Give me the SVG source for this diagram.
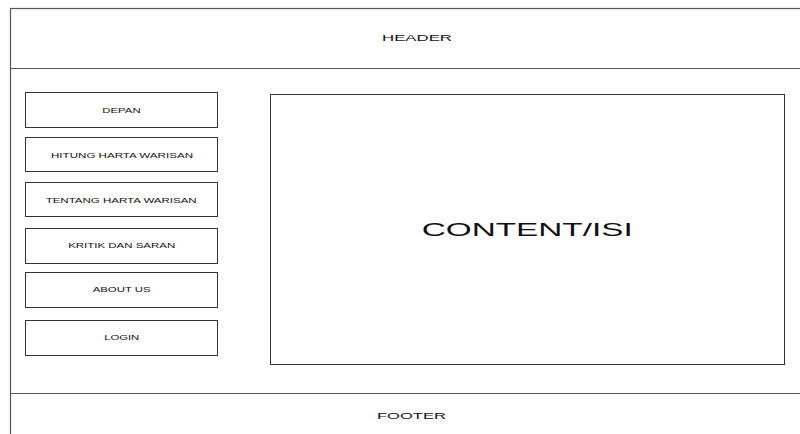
<svg xmlns="http://www.w3.org/2000/svg" width="800" height="434" viewBox="0 0 800 434">
<style>
.box{fill:#fff;stroke:#333;stroke-width:1}
.ln{stroke:#555;stroke-width:1.2;fill:none}
.t{font-family:"Liberation Sans",Arial,sans-serif;fill:#111;text-anchor:middle;dominant-baseline:central}
.m{font-size:7px}
.h{font-size:9.5px}
</style>
<rect width="800" height="434" fill="#fff"/>
<g id="frame">
<rect x="10.5" y="8.5" width="800" height="440" class="ln"/>
</g>
<g id="header">
<line x1="10.5" y1="68.5" x2="800" y2="68.5" class="ln"/>
<text x="417" y="37.5" class="t h" textLength="70" lengthAdjust="spacingAndGlyphs">HEADER</text>
</g>
<g id="footer">
<line x1="10.5" y1="393.5" x2="800" y2="393.5" class="ln"/>
<text x="411.5" y="415.7" class="t h" textLength="69" lengthAdjust="spacingAndGlyphs">FOOTER</text>
</g>
<g id="depan"><rect x="25.5" y="92.5" width="192" height="35" class="box"/><text x="121.5" y="110" class="t m" textLength="38.4" lengthAdjust="spacingAndGlyphs">DEPAN</text></g>
<g id="hitung"><rect x="25.5" y="137.5" width="192" height="34" class="box"/><text x="122" y="155" class="t m" textLength="142" lengthAdjust="spacingAndGlyphs">HITUNG HARTA WARISAN</text></g>
<g id="tentang"><rect x="25.5" y="182.5" width="192" height="34" class="box"/><text x="121.2" y="200" class="t m" textLength="151" lengthAdjust="spacingAndGlyphs">TENTANG HARTA WARISAN</text></g>
<g id="kritik"><rect x="25.5" y="228.5" width="192" height="35" class="box"/><text x="121.7" y="245" class="t m" textLength="107" lengthAdjust="spacingAndGlyphs">KRITIK DAN SARAN</text></g>
<g id="about"><rect x="25.5" y="272.5" width="192" height="35" class="box"/><text x="121.7" y="289.3" class="t m" textLength="58" lengthAdjust="spacingAndGlyphs">ABOUT US</text></g>
<g id="login"><rect x="25.5" y="320.5" width="192" height="35" class="box"/><text x="121.7" y="337.3" class="t m" textLength="35" lengthAdjust="spacingAndGlyphs">LOGIN</text></g>
<g id="content"><rect x="270.5" y="94.5" width="514" height="270" class="box"/><text x="527.2" y="229" class="t" font-size="19" textLength="211" lengthAdjust="spacingAndGlyphs">CONTENT/ISI</text></g>
<g id="connectors"></g>
</svg>
